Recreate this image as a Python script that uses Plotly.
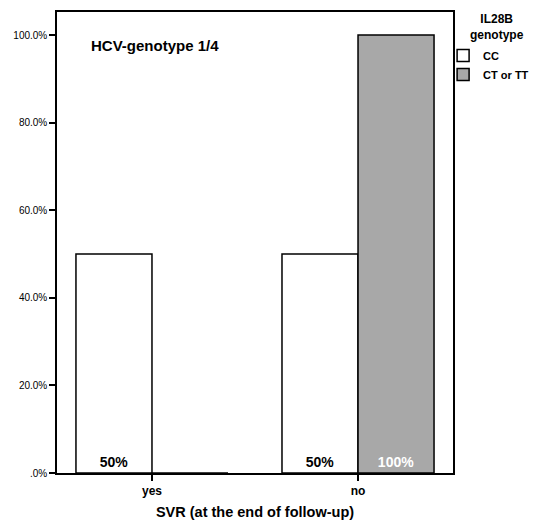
import plotly.graph_objects as go

categories = ["yes", "no"]
cc_values = [50, 50]
ct_values = [0, 100]
cc_labels = ["<b>50%</b>", "<b>50%</b>"]
ct_labels = ["", "<b>100%</b>"]
y_tick_vals = [0, 20, 40, 60, 80, 100]
y_tick_text = [".0%", "20.0%", "40.0%", "60.0%", "80.0%", "100.0%"]

FONT = "Liberation Sans, Arial, sans-serif"

fig = go.Figure()
fig.add_trace(go.Bar(
    x=[0, 1], y=cc_values, name="<b>CC</b>",
    marker=dict(color="white", line=dict(color="black", width=1.5)),
    text=cc_labels, textposition="inside", insidetextanchor="start",
    textfont=dict(family=FONT, size=14, color="black"),
    textangle=0,
))
fig.add_trace(go.Bar(
    x=[0, 1], y=ct_values, name="<b>CT or TT</b>",
    marker=dict(color="#a8a8a8", line=dict(color="black", width=1.5)),
    text=ct_labels, textposition="inside", insidetextanchor="start",
    textfont=dict(family=FONT, size=14, color="white"),
    textangle=0,
))

fig.update_layout(
    width=538, height=520,
    margin=dict(l=57, r=85, t=12, b=47, autoexpand=False),
    barmode="group", bargap=0.262, bargroupgap=0,
    plot_bgcolor="white", paper_bgcolor="white",
    font=dict(family=FONT, color="black", size=10),
    uniformtext=dict(mode="show", minsize=8),
    showlegend=True,
    legend=dict(
        x=0.975, y=0.937, xanchor="left", yanchor="top",
        font=dict(size=11, family=FONT),
        itemwidth=30, tracegroupgap=0,
        bgcolor="rgba(0,0,0,0)",
    ),
    annotations=[
        dict(
            x=0.08, y=0.928, xref="paper", yref="paper",
            text="<b>HCV-genotype 1/4</b>", showarrow=False,
            xanchor="left", yanchor="middle",
            font=dict(size=15, family=FONT, color="black"),
        ),
        dict(
            x=1.111, y=1.005, xref="paper", yref="paper",
            text="<b>IL28B<br>genotype</b>", showarrow=False,
            xanchor="center", yanchor="top", align="center",
            font=dict(size=12, family=FONT, color="black"),
        ),
    ],
)

fig.update_xaxes(
    range=[-0.461, 1.461],
    tickvals=[0, 1], ticktext=["<b>yes</b>", "<b>no</b>"],
    ticks="outside", ticklen=6, tickwidth=1.5, tickcolor="black",
    showline=True, linecolor="black", linewidth=1.5, mirror=True,
    showgrid=False, zeroline=False, automargin=False,
    tickfont=dict(size=12, family=FONT),
    title=dict(text="<b>SVR (at the end of follow-up)</b>", font=dict(size=14.5, family=FONT), standoff=10),
)
fig.update_yaxes(
    range=[0, 105.25],
    tickvals=y_tick_vals, ticktext=y_tick_text,
    ticks="outside", ticklen=6, tickwidth=1.5, tickcolor="black",
    showline=True, linecolor="black", linewidth=1.5, mirror=True,
    showgrid=False, zeroline=False, automargin=False,
    tickfont=dict(size=10, family=FONT),
)

fig.write_html("out.html", config={"displayModeBar": False},
               post_script="document.body.style.margin='0';")
